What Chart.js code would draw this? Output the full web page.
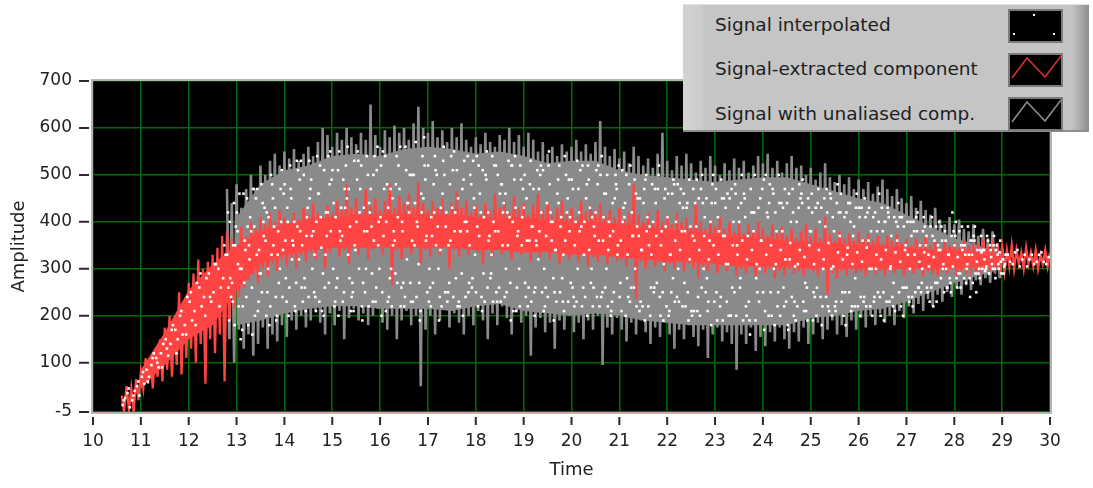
<!DOCTYPE html>
<html>
<head>
<meta charset="utf-8">
<title>Signal extraction</title>
<script src="https://cdn.jsdelivr.net/npm/chart.js@4.4.0/dist/chart.umd.min.js"></script>
<style>
  html, body { margin: 0; padding: 0; background: #ffffff; }
  #wrap { position: relative; width: 1093px; height: 488px; overflow: hidden; }
  #plot { position: absolute; left: 0; top: 0; }
  #legend {
    position: absolute; left: 683px; top: 4px; width: 406px; height: 128px;
    box-sizing: border-box;
    background: linear-gradient(to right, #d3d3d3 0px, #cdcdcd 19px, #c5c5c5 21px, #c5c5c5 388px, #a9a9a9 398px, #8d8d8d 406px);
    border-top: 1px solid #e2e2e2; border-bottom: 2px solid #8e8e8e;
    font-family: "DejaVu Sans", sans-serif; font-size: 18.5px; color: #1e1e1e;
  }
  .entry { position: absolute; left: 32px; height: 24px; line-height: 24px; white-space: nowrap; }
  .swatch { position: absolute; left: 325px; width: 55px; height: 34px; box-sizing: border-box;
            background: #000; border: 2px solid #7c7c7c; }
  .swatch svg { display: block; }
</style>
</head>
<body>
<div id="wrap">
  <canvas id="plot" width="1093" height="488"></canvas>
  <div id="legend">
    <div class="entry" style="top:8px">Signal interpolated</div>
    <div class="swatch" style="top:4px">
      <svg width="51" height="30"><rect x="23" y="3" width="2" height="2" fill="#fff"/><rect x="3" y="22" width="2" height="2" fill="#fff"/><rect x="43" y="22" width="2" height="2" fill="#fff"/></svg>
    </div>
    <div class="entry" style="top:52px">Signal-extracted component</div>
    <div class="swatch" style="top:48px">
      <svg width="51" height="30"><polyline points="2,23 17,3 35,22 51,1" fill="none" stroke="#d23434" stroke-width="1.6"/></svg>
    </div>
    <div class="entry" style="top:97px">Signal with unaliased comp.</div>
    <div class="swatch" style="top:92px">
      <svg width="51" height="30"><polyline points="2,23 17,3 35,22 51,1" fill="none" stroke="#8c8c8c" stroke-width="1.6"/></svg>
    </div>
  </div>
</div>
<script>
// Axis ticks
const xTicks = [10,11,12,13,14,15,16,17,18,19,20,21,22,23,24,25,26,27,28,29,30];
const yTicks = [-5,100,200,300,400,500,600,700];

// Signal with unaliased comp.: upper / lower swing, sampled every 0.1 s from 12.8 s
const grayStart = 12.8;
const grayHi = [
  470, 440,
  480, 430, 470, 500, 470, 520, 500, 530, 545, 520,
  550, 535, 555, 530, 545, 560, 540, 570, 600, 585,
  560, 590, 575, 600, 580, 565, 590, 575, 650, 585,
  560, 595, 580, 605, 590, 600, 575, 610, 645, 600,
  590, 615, 580, 595, 570, 600, 580, 610, 575, 560,
  580, 565, 590, 570, 560, 585, 575, 600, 570, 585,
  560, 590, 575, 550, 570, 545, 560, 540, 565, 550,
  560, 575, 550, 565, 545, 570, 615, 560, 540, 555,
  535, 550, 525, 560, 540, 520, 535, 515, 545, 590,
  530, 510, 540, 520, 545, 525, 505, 530, 515, 540,
  520, 500, 525, 510, 535, 515, 530, 505, 520, 540,
  525, 545, 515, 530, 505, 525, 540, 515, 520, 500,
  515, 490, 505, 525, 495, 485, 500, 480, 495, 470,
  490, 470, 485, 460, 475, 490, 470, 455, 470, 450,
  440, 455, 430, 445, 425, 415, 430, 405, 395, 410,
  395, 405, 385, 380, 395, 370, 385, 365, 380, 355,
  345
];
const grayLo = [
  150, 100,
  170, 130, 160, 115, 140, 175, 130, 160, 145, 180,
  155, 190, 170, 200, 175, 190, 210, 185, 160, 205,
  180, 210, 150, 195, 215, 190, 205, 180, 200, 215,
  185, 170, 200, 150, 190, 210, 180, 200, 50, 170,
  200, 160, 190, 215, 175, 205, 185, 160, 200, 180,
  210, 190, 150, 205, 180, 220, 195, 160, 210, 185,
  200, 115, 175, 195, 165, 185, 130, 190, 170, 200,
  165, 185, 150, 190, 170, 200, 95, 175, 160, 195,
  170, 145, 185, 160, 190, 165, 140, 175, 155, 185,
  160, 130, 170, 150, 180, 155, 135, 170, 110, 160,
  175, 145, 165, 140, 85, 160, 140, 175, 125, 155,
  135, 165, 145, 175, 150, 130, 165, 145, 175, 140,
  160, 185, 150, 170, 190, 160, 180, 155, 190, 170,
  195, 175, 200, 180, 205, 185, 200, 180, 210, 195,
  220, 205, 225, 210, 235, 220, 245, 230, 250, 240,
  260, 245, 265, 255, 275, 265, 280, 270, 290, 280,
  295
];
// Solid core of the unaliased trace, every 0.5 s from 13.0 s
const grayCoreStart = 13.0;
const grayCoreHi = [
  410, 480, 510, 520, 540, 545, 540, 555, 560, 555,
  545, 550, 540, 525, 530, 530, 510, 500, 495, 490,
  485, 490, 495, 495, 480, 465, 450, 440, 415, 390,
  365, 350, 330
];
const grayCoreLo = [
  180, 190, 205, 215, 220, 220, 215, 215, 215, 210,
  220, 225, 210, 205, 200, 205, 200, 190, 185, 180,
  180, 180, 180, 180, 195, 200, 210, 215, 230, 250,
  270, 285, 300
];

// Signal-extracted component: upper / lower swing, every 0.1 s from 10.6 s
const redStart = 10.6;
const redHi = [
  30, 50, 45, 65,
  80, 110, 105, 125, 150, 175, 200, 190, 250, 230,
  270, 290, 320, 300, 315, 330, 345, 370, 380, 365,
  350, 390, 370, 400, 385, 410, 395, 420, 400, 425,
  410, 395, 420, 405, 430, 415, 440, 420, 410, 435,
  420, 445, 425, 480, 430, 450, 420, 470, 435, 450,
  425, 445, 480, 430, 455, 440, 460, 430, 485, 440,
  425, 445, 430, 450, 420, 440, 465, 430, 445, 420,
  435, 415, 440, 425, 460, 430, 445, 420, 455, 430,
  440, 415, 435, 460, 425, 440, 415, 430, 445, 420,
  430, 410, 445, 420, 435, 425, 440, 415, 425, 410,
  430, 405, 420, 480, 415, 400, 420, 405, 425, 400,
  415, 395, 420, 400, 410, 390, 440, 400, 385, 405,
  390, 410, 385, 400, 380, 395, 375, 395, 380, 400,
  385, 370, 395, 375, 390, 370, 385, 365, 380, 395,
  370, 385, 365, 410, 375, 360, 380, 365, 375, 360,
  380, 365, 375, 360, 370, 355, 370, 360, 375, 355,
  365, 350, 365, 355, 370, 350, 360, 345, 360, 350,
  355, 345, 360, 350, 345, 355, 365, 350, 345, 355,
  345, 340, 350, 340, 335, 345, 335, 340, 330, 340,
  335
];
const redLo = [
  -5, 0, -5, 20,
  45, 55, 45, 70, 60, 85, 70, 95, 75, 110,
  130, 100, 140, 55, 150, 120, 160, 60, 190, 215,
  240, 260, 275, 290, 270, 300, 285, 310, 295, 320,
  305, 325, 300, 330, 315, 335, 320, 340, 300, 335,
  345, 325, 340, 310, 345, 330, 350, 320, 340, 355,
  330, 345, 265, 340, 320, 345, 330, 350, 310, 340,
  325, 345, 330, 350, 300, 340, 325, 345, 330, 350,
  335, 310, 340, 325, 345, 330, 350, 320, 340, 330,
  345, 315, 335, 325, 340, 320, 335, 310, 330, 320,
  335, 315, 330, 305, 325, 315, 330, 310, 325, 315,
  320, 305, 325, 235, 315, 300, 320, 305, 315, 295,
  310, 300, 315, 295, 310, 300, 280, 305, 295, 310,
  290, 305, 295, 310, 285, 300, 290, 305, 285, 300,
  290, 300, 280, 295, 285, 300, 290, 295, 285, 300,
  295, 285, 300, 245, 290, 280, 295, 285, 300, 290,
  295, 285, 300, 290, 295, 285, 295, 290, 300, 285,
  295, 290, 300, 285, 295, 290, 285, 295, 290, 300,
  285, 295, 290, 300, 295, 290, 300, 295, 305, 300,
  295, 305, 300, 310, 300, 310, 305, 300, 310, 305,
  310
];
// Solid core of the extracted component, every 0.5 s from 11.0 s
const redCoreStart = 11.0;
const redCoreHi = [
  85, 165, 255, 310, 350, 380, 395, 405, 410, 415,
  415, 420, 415, 415, 410, 410, 410, 405, 400, 400,
  395, 390, 385, 380, 375, 370, 365, 360, 355, 355,
  350, 350, 345, 340, 340, 335, 330
];
const redCoreLo = [
  45, 95, 150, 180, 255, 310, 330, 340, 345, 345,
  345, 345, 345, 345, 340, 340, 335, 335, 330, 330,
  325, 320, 315, 315, 310, 305, 305, 305, 300, 300,
  300, 300, 300, 300, 300, 305, 305
];

// Signal interpolated: sample points in interleaved runs
const dotStart = 10.6;
const dotsA = [
  10, 35, 20, 50,
  70, 85, 95, 110, 120, 150, 140, 170, 200, 180,
  230, 210, 260, 240, 290, 250, 300, 280, 420, 230,
  380, 170, 450, 260, 330, 480, 200, 500, 240, 470,
  360, 520, 220, 490, 280, 530, 250, 460, 200, 540,
  300, 510, 230, 560, 270, 490, 220, 540, 390, 260,
  520, 210, 470, 290, 560, 240, 500, 350, 270, 580,
  230, 480, 300, 530, 250, 510, 220, 470, 380, 260,
  540, 240, 490, 290, 520, 230, 460, 270, 540, 220,
  500, 360, 250, 470, 210, 520, 280, 490, 230, 450,
  260, 530, 220, 480, 300, 510, 240, 460, 200, 500,
  270, 440, 230, 490, 210, 470, 350, 250, 500, 190,
  460, 280, 480, 220, 440, 200, 490, 260, 450, 180,
  470, 240, 430, 200, 480, 260, 450, 190, 420, 230,
  490, 200, 460, 250, 430, 180, 470, 220, 440, 260,
  460, 200, 430, 240, 450, 210, 420, 250, 440, 220,
  410, 240, 430, 230, 400, 250, 420, 220, 390, 260,
  400, 240, 380, 270, 370, 260, 390, 280, 360, 270,
  370, 290, 350, 280, 360, 300, 340, 290, 350, 310,
  320, 330, 310, 340, 320, 305, 330, 315, 335, 310,
  325
];
const dotsB = [
  25, 5, 40, 30,
  55, 70, 120, 90, 140, 115, 180, 150, 160, 240,
  190, 270, 220, 280, 230, 310, 260, 330, 280, 350,
  300, 360, 320, 390, 340, 370, 410, 350, 380, 340,
  400, 360, 390, 350, 410, 370, 400, 345, 420, 380,
  410, 360, 430, 390, 350, 420, 380, 440, 360, 400,
  370, 430, 350, 410, 380, 440, 360, 400, 420, 370,
  410, 350, 430, 390, 360, 420, 380, 400, 350, 430,
  370, 410, 360, 400, 380, 420, 350, 400, 370, 410,
  360, 390, 350, 420, 370, 400, 340, 390, 360, 410,
  350, 380, 400, 340, 390, 360, 410, 340, 380, 350,
  400, 330, 370, 390, 340, 380, 330, 370, 350, 390,
  330, 360, 340, 380, 320, 360, 340, 370, 320, 350,
  330, 370, 310, 350, 330, 360, 320, 340, 310, 360,
  330, 350, 310, 340, 320, 355, 305, 340, 325, 350,
  310, 340, 320, 355, 305, 335, 320, 345, 310, 335,
  315, 345, 300, 330, 320, 340, 305, 335, 315, 340,
  300, 330, 315, 335, 305, 325, 340, 310, 330, 305,
  325, 340, 310, 330, 315, 335, 305, 325, 340, 315,
  330, 315, 335, 305, 330, 320, 310, 330, 315, 325,
  310
];
const dotsF = [
  20, 45, 30, 60,
  80, 60, 110, 100, 90, 130, 170, 120, 210, 160,
  250, 180, 290, 200, 240, 310, 220, 350
];
const grayDotStart = 12.8;
const dotsC = [
  190, 440,
  220, 460, 180, 470, 210, 440, 250, 480, 200, 510,
  230, 450, 270, 530, 210, 470, 240, 520, 260, 480,
  220, 550, 250, 470, 210, 530, 270, 500, 230, 560,
  250, 480, 220, 540, 260, 510, 230, 570, 210, 490,
  260, 540, 240, 500, 270, 550, 230, 490, 250, 530,
  220, 510, 260, 540, 230, 480, 250, 520, 210, 490,
  240, 530, 260, 500, 220, 480, 250, 520, 210, 490,
  240, 470, 260, 520, 220, 480, 250, 500, 230, 470,
  210, 500, 260, 460, 230, 490, 200, 470, 240, 450,
  210, 480, 230, 460, 190, 470, 240, 440, 210, 480,
  190, 450, 230, 470, 200, 440, 220, 470, 190, 450,
  210, 480, 180, 440, 220, 460, 200, 430, 230, 450,
  190, 440, 220, 420, 200, 440, 230, 420, 210, 430,
  240, 410, 220, 420, 240, 400, 230, 410, 250, 390,
  240, 400, 260, 380, 250, 370, 270, 360, 260, 370,
  280, 350, 270, 360, 290, 340, 295, 350, 300, 335,
  305
];
const dotsD = [
  330, 270,
  420, 300, 240, 380, 450, 290, 360, 220, 430, 300,
  480, 260, 400, 320, 500, 240, 380, 460, 290, 420,
  510, 280, 370, 450, 240, 400, 520, 300, 470, 230,
  410, 540, 280, 360, 470, 220, 420, 500, 310, 450,
  520, 270, 390, 460, 230, 430, 510, 290, 400, 480,
  250, 420, 500, 280, 380, 460, 240, 410, 490, 300,
  430, 260, 470, 320, 510, 240, 400, 460, 280, 420,
  490, 230, 390, 450, 270, 420, 500, 260, 370, 450,
  240, 410, 480, 260, 370, 440, 220, 400, 470, 250,
  410, 460, 240, 380, 430, 210, 390, 470, 250, 400,
  440, 220, 370, 450, 250, 400, 460, 230, 380, 430,
  250, 410, 470, 220, 380, 440, 240, 400, 460, 210,
  380, 430, 240, 390, 460, 220, 370, 410, 250, 390,
  430, 230, 360, 410, 250, 380, 430, 240, 360, 410,
  260, 370, 410, 250, 350, 390, 270, 340, 380, 280,
  350, 380, 280, 330, 370, 290, 340, 360, 300, 330,
  320
];
const dotsE = [
  240, 390,
  150, 340, 410, 200, 290, 430, 180, 390, 270, 460,
  200, 350, 510, 230, 430, 300, 540, 210, 370, 490,
  260, 430, 520, 210, 340, 470, 250, 420, 540, 300,
  470, 240, 380, 520, 270, 440, 230, 390, 540, 250,
  370, 500, 220, 420, 540, 280, 380, 240, 500, 330,
  460, 230, 370, 520, 260, 440, 530, 210, 380, 470,
  220, 390, 510, 250, 440, 360, 230, 410, 500, 270,
  400, 510, 240, 430, 370, 220, 460, 400, 250, 520,
  430, 240, 370, 450, 220, 410, 480, 270, 380, 220,
  250, 400, 470, 220, 390, 440, 200, 410, 360, 230,
  380, 450, 200, 400, 430, 190, 370, 420, 250, 470,
  420, 200, 380, 440, 230, 400, 190, 450, 270, 380,
  240, 400, 450, 210, 380, 420, 200, 440, 370, 220,
  360, 420, 200, 380, 430, 230, 370, 400, 220, 350,
  400, 250, 350, 390, 230, 360, 400, 250, 330, 380,
  290, 350, 390, 270, 340, 300, 370, 310, 350, 290,
  330
];
const dotsG = [
  260, 350,
  310, 220, 390, 160, 470, 250, 420, 330, 190, 400,
  280, 470, 210, 380, 260, 450, 330, 230, 510, 270,
  440, 200, 490, 330, 250, 550, 190, 380, 290, 510,
  200, 400, 300, 480, 220, 560, 270, 440, 190, 520,
  300, 420, 190, 560, 350, 240, 450, 200, 540, 280,
  390, 210, 550, 330, 250, 480, 300, 190, 430, 520,
  270, 480, 200, 380, 300, 550, 190, 440, 330, 230,
  470, 300, 520, 200, 410, 240, 540, 300, 210, 480,
  360, 200, 520, 300, 450, 190, 390, 260, 520, 310,
  200, 490, 300, 430, 250, 370, 210, 500, 280, 440,
  250, 490, 310, 200, 460, 280, 410, 160, 500, 300,
  170, 440, 300, 500, 260, 170, 420, 310, 490, 190,
  420, 260, 180, 470, 300, 230, 460, 180, 400, 280,
  200, 450, 300, 240, 460, 190, 410, 270, 440, 200,
  330, 220, 420, 300, 260, 410, 230, 390, 300, 250,
  400, 260, 330, 240, 390, 280, 320, 290, 370, 300,
  290
];
const dotsH = [
  400, 180,
  460, 270, 350, 470, 230, 400, 300, 450, 330, 240,
  430, 320, 530, 260, 370, 490, 210, 410, 330, 550,
  230, 380, 470, 280, 530, 300, 430, 220, 500, 350,
  550, 230, 450, 270, 400, 320, 500, 240, 460, 360,
  220, 510, 340, 250, 480, 380, 220, 530, 270, 450,
  520, 290, 420, 230, 500, 350, 420, 520, 260, 350,
  450, 230, 360, 520, 260, 420, 340, 250, 540, 380,
  220, 420, 330, 490, 260, 520, 360, 220, 440, 330,
  510, 280, 420, 220, 340, 500, 260, 440, 200, 470,
  330, 230, 440, 270, 490, 210, 450, 300, 230, 500,
  410, 190, 460, 260, 350, 500, 200, 420, 280, 360,
  500, 250, 420, 200, 470, 320, 230, 480, 210, 430,
  250, 470, 300, 220, 410, 480, 250, 330, 220, 460,
  430, 220, 380, 300, 200, 400, 300, 210, 410, 260,
  230, 380, 260, 410, 330, 220, 350, 300, 260, 420,
  260, 390, 300, 360, 250, 370, 300, 340, 280, 360,
  310
];

const STEP = 0.1;
const CORE_STEP = 0.5;
const FONT = 'DejaVu Sans';
const RED = '#ff4444';
const GRAY = '#8a8a8a';

// Upper and lower swings alternate half a step apart, giving the dense trace
function swingTrace(t0, hi, lo) {
  const n = Math.min(hi.length, lo.length), pts = [];
  for (let i = 0; i < n; i++) {
    const t = t0 + i * STEP;
    pts.push({ x: t, y: hi[i] });
    pts.push({ x: t + STEP / 2, y: lo[i] });
  }
  return pts;
}
function sampleRun(t0, vals, phase, step) {
  const dt = step || STEP;
  return vals.map((v, i) => ({ x: t0 + i * dt + phase, y: v }));
}

const dotPoints = [].concat(
  sampleRun(dotStart, dotsA, 0.02),
  sampleRun(dotStart, dotsB, 0.07),
  sampleRun(dotStart, dotsF, 0.045),
  sampleRun(grayDotStart, dotsC, 0.045),
  sampleRun(grayDotStart, dotsD, 0.005),
  sampleRun(grayDotStart, dotsE, 0.085),
  sampleRun(grayDotStart, dotsG, 0.03),
  sampleRun(grayDotStart, dotsH, 0.06)
);

// Black plot field, outer frame and detached tick marks
const plotFrame = {
  id: 'plotFrame',
  beforeDraw(chart) {
    const { ctx, chartArea: a } = chart;
    ctx.save();
    ctx.fillStyle = '#000';
    ctx.fillRect(a.left, a.top, a.right - a.left, a.bottom - a.top);
    ctx.restore();
  },
  afterDraw(chart) {
    const { ctx, chartArea: a, scales } = chart;
    ctx.save();
    ctx.strokeStyle = '#b4b4b4';
    ctx.lineWidth = 2;
    ctx.strokeRect(a.left - 1, a.top - 1, a.right - a.left + 2, a.bottom - a.top + 2);
    ctx.strokeStyle = '#2a2a2a';
    ctx.lineWidth = 2;
    ctx.beginPath();
    scales.y.ticks.forEach(t => {
      const py = scales.y.getPixelForValue(t.value);
      ctx.moveTo(a.left - 14, py);
      ctx.lineTo(a.left - 4, py);
    });
    scales.x.ticks.forEach(t => {
      const px = scales.x.getPixelForValue(t.value);
      ctx.moveTo(px, a.bottom + 5);
      ctx.lineTo(px, a.bottom + 13);
    });
    ctx.stroke();
    ctx.restore();
  }
};

const band = (data, color, order, fill) => ({
  data, order, fill: fill || false,
  backgroundColor: color, borderColor: 'transparent', borderWidth: 0,
  pointRadius: 0, tension: 0
});

new Chart(document.getElementById('plot'), {
  type: 'line',
  data: {
    datasets: [
      {
        label: 'Signal interpolated',
        data: dotPoints,
        showLine: false,
        pointStyle: 'rect',
        pointRadius: 1.8,
        pointBorderWidth: 0,
        pointBackgroundColor: '#ffffff',
        order: 1
      },
      {
        label: 'Signal-extracted component',
        data: swingTrace(redStart, redHi, redLo),
        borderColor: RED,
        borderWidth: 2.3,
        pointRadius: 0,
        tension: 0,
        order: 2
      },
      band(sampleRun(redCoreStart, redCoreHi, 0, CORE_STEP), RED, 3, '+1'),
      band(sampleRun(redCoreStart, redCoreLo, 0, CORE_STEP), RED, 3),
      {
        label: 'Signal with unaliased comp.',
        data: swingTrace(grayStart, grayHi, grayLo),
        borderColor: GRAY,
        borderWidth: 2.6,
        pointRadius: 0,
        tension: 0,
        order: 4
      },
      band(sampleRun(grayCoreStart, grayCoreHi, 0, CORE_STEP), GRAY, 5, '+1'),
      band(sampleRun(grayCoreStart, grayCoreLo, 0, CORE_STEP), GRAY, 5)
    ]
  },
  options: {
    responsive: false,
    devicePixelRatio: 1,
    animation: false,
    events: [],
    layout: { padding: { top: 81, right: 43, bottom: 0, left: 0 } },
    plugins: { legend: { display: false }, tooltip: { enabled: false } },
    scales: {
      x: {
        type: 'linear',
        min: 10, max: 30,
        afterBuildTicks: s => { s.ticks = xTicks.map(v => ({ value: v })); },
        afterFit: s => { s.height = 76; },
        border: { display: false },
        grid: { color: '#006a00', lineWidth: 1.6, drawTicks: false },
        ticks: { padding: 19, color: '#222', maxRotation: 0, autoSkip: false,
                 font: { family: FONT, size: 17 } },
        title: { display: true, text: 'Time', color: '#222',
                 font: { family: FONT, size: 18 }, padding: { top: 0, bottom: 7 } }
      },
      y: {
        type: 'linear',
        min: -5, max: 700,
        afterBuildTicks: s => { s.ticks = yTicks.map(v => ({ value: v })); },
        afterFit: s => { s.width = 93; },
        border: { display: false },
        grid: { color: '#006a00', lineWidth: 1.6, drawTicks: false },
        ticks: { padding: 21, color: '#222', font: { family: FONT, size: 17 } },
        title: { display: true, text: 'Amplitude', color: '#222',
                 font: { family: FONT, size: 18 }, padding: { top: 9, bottom: 0 } }
      }
    }
  },
  plugins: [plotFrame]
});
</script>
</body>
</html>
